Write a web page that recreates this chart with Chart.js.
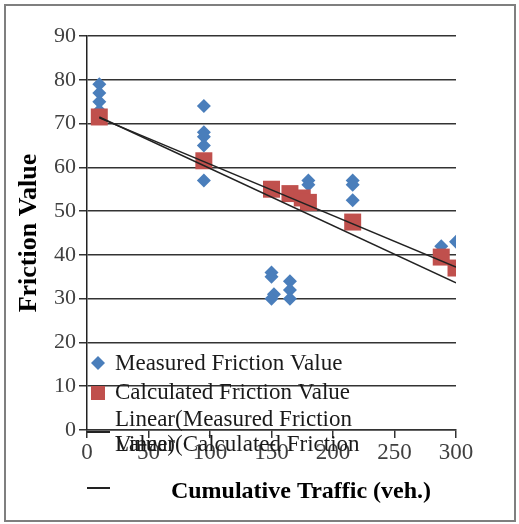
<!DOCTYPE html>
<html>
<head>
<meta charset="utf-8">
<script src="https://cdn.jsdelivr.net/npm/chart.js@4/dist/chart.umd.min.js"></script>
<style>
  html, body { margin: 0; padding: 0; background: #fff; }
  #wrap { width: 519px; height: 524px; position: relative; }
</style>
</head>
<body>
<div id="wrap"><canvas id="c"></canvas></div>
<script>
// Cumulative traffic (veh.) and friction readings
const measuredTraffic = [10, 10, 10, 10, 95, 95, 95, 95, 95, 150, 150, 152, 150, 165, 165, 165, 180, 180, 216, 216, 216, 288, 288, 300];
const measuredFriction = [79, 77, 75, 73, 74, 68, 67, 65, 57, 36, 35, 31, 30, 34, 32, 30, 57, 56, 57, 56, 52.5, 42, 40, 43];

const calculatedTraffic = [10, 95, 150, 165, 175, 180, 216, 288, 300];
const calculatedFriction = [71.5, 61.5, 55, 54, 53, 52, 47.5, 39.5, 37];

// Linear trendline end points
const measuredTrendX = [10, 300];
const measuredTrendY = [71.5, 33.6];
const calculatedTrendX = [10, 300];
const calculatedTrendY = [71.3, 37.2];

const xTicks = [0, 50, 100, 150, 200, 250, 300];
const yTicks = [0, 10, 20, 30, 40, 50, 60, 70, 80, 90];

const seriesNames = ['Measured Friction Value', 'Calculated Friction Value',
  'Linear(Measured Friction Value)', 'Linear(Calculated Friction Value)'];
const xTitle = 'Cumulative Traffic (veh.)';
const yTitle = 'Friction Value';

const BLUE = '#4A7EBB';
const RED = '#C0504D';
const SERIF = "'Liberation Serif', 'Times New Roman', serif";

const pairs = (xs, ys) => xs.map((x, i) => ({ x: x, y: ys[i] }));

// Frame, x-axis title and the wrapped legend
const decor = {
  id: 'decor',
  beforeDraw(chart) {
    const ctx = chart.ctx;
    ctx.save();
    ctx.fillStyle = '#fff';
    ctx.fillRect(0, 0, chart.width, chart.height);
    ctx.strokeStyle = '#7f7f7f';
    ctx.lineWidth = 2;
    ctx.strokeRect(5, 5, 510, 516);
    ctx.restore();
  },
  afterDraw(chart) {
    const ctx = chart.ctx;
    ctx.save();
    // x-axis title
    ctx.fillStyle = '#000';
    ctx.font = 'bold 24px ' + SERIF;
    ctx.textAlign = 'center';
    ctx.textBaseline = 'middle';
    ctx.fillText(xTitle, 301, 492);

    // legend markers
    ctx.fillStyle = BLUE;
    ctx.beginPath();
    ctx.moveTo(98, 356); ctx.lineTo(105, 363); ctx.lineTo(98, 370); ctx.lineTo(91, 363);
    ctx.closePath(); ctx.fill();
    ctx.fillStyle = RED;
    ctx.fillRect(91, 386, 14, 14);
    ctx.strokeStyle = '#222';
    ctx.lineWidth = 2;
    ctx.beginPath(); ctx.moveTo(87, 432); ctx.lineTo(110, 432); ctx.stroke();
    ctx.beginPath(); ctx.moveTo(87, 488); ctx.lineTo(110, 488); ctx.stroke();

    // legend text (entries wrap and overlap in the box)
    ctx.fillStyle = '#1a1a1a';
    ctx.font = '23px ' + SERIF;
    ctx.textAlign = 'left';
    ctx.textBaseline = 'middle';
    ctx.fillText(seriesNames[0], 115, 364);
    ctx.fillText(seriesNames[1], 115, 393);
    ctx.fillText('Linear(Measured Friction', 115, 420);
    ctx.fillText('Value)', 115, 445);
    ctx.fillText('Linear(Calculated Friction', 115, 445);
    ctx.restore();
  }
};

new Chart(document.getElementById('c'), {
  type: 'scatter',
  data: {
    datasets: [
      {
        label: seriesNames[0],
        data: pairs(measuredTraffic, measuredFriction),
        pointStyle: 'rectRot',
        pointRadius: 7,
        pointHoverRadius: 7,
        backgroundColor: BLUE,
        borderColor: BLUE,
        borderWidth: 0,
        order: 3
      },
      {
        label: seriesNames[1],
        data: pairs(calculatedTraffic, calculatedFriction),
        pointStyle: 'rect',
        pointRadius: 12,
        pointHoverRadius: 12,
        backgroundColor: RED,
        borderColor: RED,
        borderWidth: 0,
        order: 2
      },
      {
        label: seriesNames[2],
        type: 'line',
        data: pairs(measuredTrendX, measuredTrendY),
        borderColor: '#222',
        borderWidth: 1.5,
        pointRadius: 0,
        fill: false,
        order: 1
      },
      {
        label: seriesNames[3],
        type: 'line',
        data: pairs(calculatedTrendX, calculatedTrendY),
        borderColor: '#222',
        borderWidth: 1.5,
        pointRadius: 0,
        fill: false,
        order: 1
      }
    ]
  },
  options: {
    responsive: true,
    maintainAspectRatio: false,
    animation: false,
    events: [],
    layout: { padding: { left: 0, top: 36, right: 63, bottom: 0 } },
    plugins: {
      legend: { display: false },
      tooltip: { enabled: false }
    },
    scales: {
      x: {
        type: 'linear',
        min: 0,
        max: 300,
        afterFit(scale) { scale.height = 94; },
        afterBuildTicks(scale) { scale.ticks = xTicks.map(v => ({ value: v })); },
        grid: {
          drawOnChartArea: false,
          drawTicks: true,
          tickLength: 8,
          color: '#333',
          lineWidth: 1.5
        },
        border: { display: true, color: '#333', width: 1.5 },
        ticks: {
          padding: 1,
          color: '#404040',
          font: { family: SERIF, size: 23 },
          maxRotation: 0
        }
      },
      y: {
        type: 'linear',
        min: 0,
        max: 90,
        afterFit(scale) { scale.width = 87; },
        afterBuildTicks(scale) { scale.ticks = yTicks.map(v => ({ value: v })); },
        grid: {
          drawOnChartArea: true,
          drawTicks: true,
          tickLength: 8,
          color: '#333',
          lineWidth: 1.5
        },
        border: { display: true, color: '#222', width: 1.5 },
        ticks: {
          padding: 3,
          color: '#404040',
          font: { family: SERIF, size: 22 }
        },
        title: {
          display: true,
          text: yTitle,
          color: '#000',
          font: { family: SERIF, size: 26, weight: 'bold' },
          padding: { top: 14, bottom: 0 }
        }
      }
    }
  },
  plugins: [decor]
});
</script>
</body>
</html>
